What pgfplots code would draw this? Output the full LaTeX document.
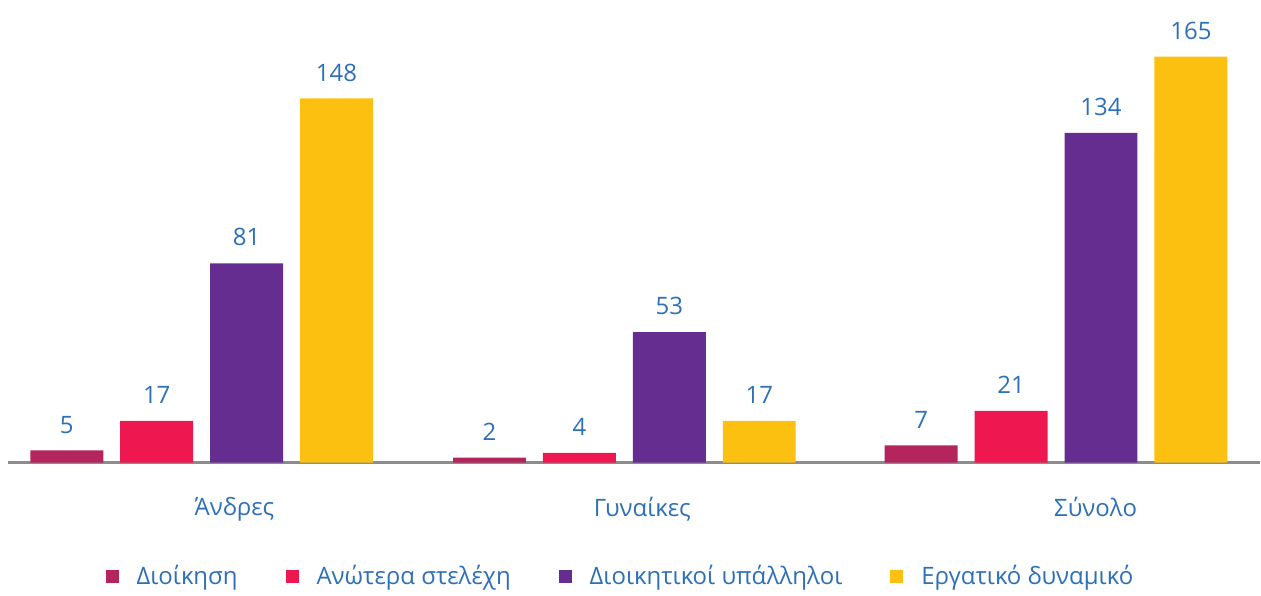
\documentclass[border=0pt]{standalone}
\usepackage{fontspec}
\setmainfont{Open Sans}
\usepackage{xcolor}
\usepackage{pgfplots}
\pgfplotsset{compat=1.18}
\definecolor{cAdmin}{HTML}{B3255C}
\definecolor{cSenior}{HTML}{EF174F}
\definecolor{cClerk}{HTML}{652D90}
\definecolor{cWork}{HTML}{FCC010}
\definecolor{cText}{HTML}{2E70B8}
\definecolor{cAxis}{HTML}{8C8C8C}

\begin{document}
\begin{tikzpicture}
\begin{axis}[
    scale only axis,
    width=626.5pt, height=231.5pt,
    ybar=8.5pt,
    bar width=36.5pt,
    xmin=-0.455, xmax=2.486,
    ymin=0, ymax=188,
    axis y line=none,
    axis x line*=bottom,
    axis line style={cAxis, line width=1.1pt},
    xtick={0.077,1.035,2.10},
    xticklabels={Άνδρες, \raisebox{-4.5pt}{Γυναίκες}, \raisebox{-3pt}{Σύνολο}},
    major tick length=0pt,
    xticklabel style={font=\fontsize{12}{14}\selectfont, text=cText, yshift=-14pt},
    nodes near coords,
    nodes near coords style={font=\fontsize{12}{14}\selectfont, text=cText,
        /pgf/number format/assume math mode=true},
    every node near coord/.append style={yshift=5pt},
    clip=false,
    legend columns=4,
    legend style={at={(0.49,-0.246)}, anchor=center, draw=none, fill=none,
        font=\fontsize{12}{14}\selectfont, text=cText,
        /tikz/every odd column/.append style={column sep=7pt},
        /tikz/every even column/.append style={column sep=22pt}},
    legend image code/.code={\fill[#1] (0pt,-3.25pt) rectangle (6.5pt,3.25pt);},
]
\addplot[fill=cAdmin, draw=none] coordinates {(0,5) (0.993,2) (2.007,7)};
\addplot[fill=cSenior, draw=none] coordinates {(0,17) (0.993,4) (2.007,21)};
\addplot[fill=cClerk, draw=none] coordinates {(0,81) (0.993,53) (2.007,134)};
\addplot[fill=cWork, draw=none] coordinates {(0,148) (0.993,17) (2.007,165)};
\legend{Διοίκηση, Ανώτερα στελέχη, Διοικητικοί υπάλληλοι, Εργατικό δυναμικό}
\end{axis}
\path ([shift={(-4pt,-63.5pt)}]current axis.south west) rectangle (current axis.north east);
\end{tikzpicture}
\end{document}
